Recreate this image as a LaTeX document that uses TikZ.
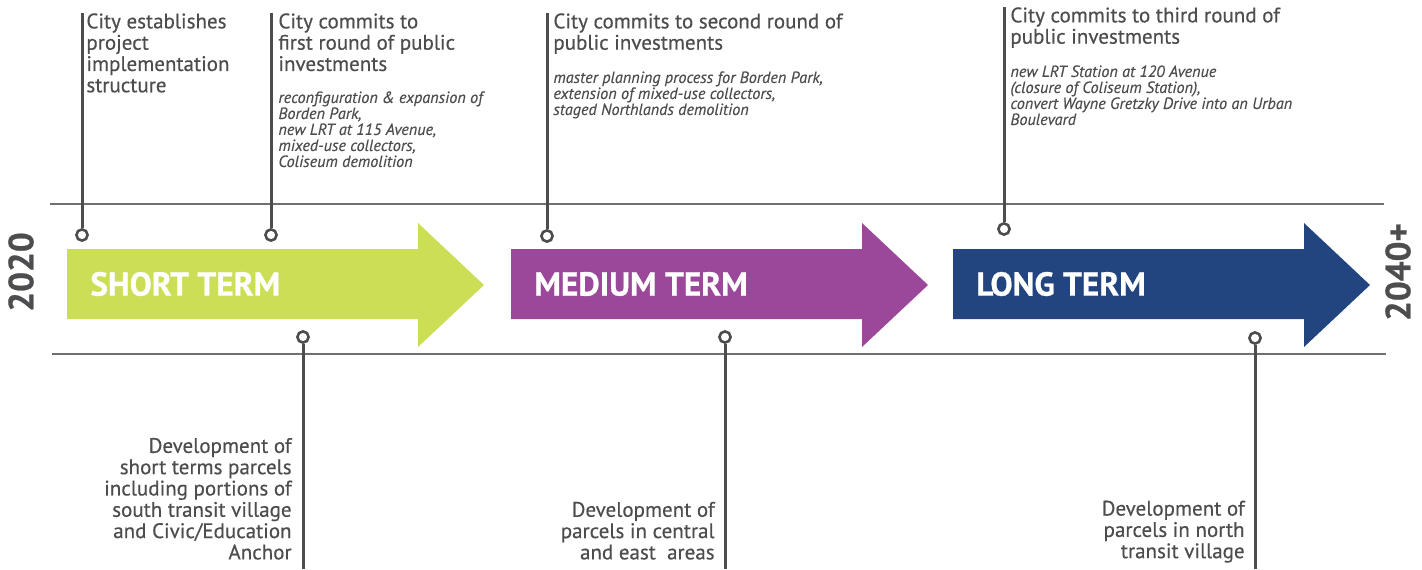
\documentclass[tikz,border=0pt]{standalone}
\usepackage{fontspec}
\setmainfont{PT Sans}
\newfontfamily\medfont{PT Sans}[UprightFeatures={FakeBold=0.4}, ItalicFeatures={FakeBold=0.25}]
\newfontfamily\heavyfont{PT Sans}[BoldFeatures={FakeBold=0.7}]
\usetikzlibrary{positioning}

\definecolor{txtgray}{HTML}{4D4D4F}
\definecolor{rulegray}{HTML}{707072}
\definecolor{shortgreen}{HTML}{CCDE56}
\definecolor{midpurple}{HTML}{9B479A}
\definecolor{longblue}{HTML}{22447F}

\tikzset{
  rule/.style={draw=rulegray, line width=0.6pt},
  stem/.style={draw=txtgray, line width=1.5pt},
  pin/.style={circle, draw=txtgray, line width=1.3pt, fill=white, minimum size=5.6pt, inner sep=0pt},
  head/.style={anchor=north west, inner sep=0pt, align=left, text=txtgray, font=\medfont\fontsize{10.5}{10.65}\selectfont},
  detail/.style={anchor=north west, inner sep=0pt, align=left, text=txtgray, font=\medfont\fontsize{8.1}{8}\selectfont\itshape},
  dev/.style={anchor=south east, inner sep=0pt, align=right, text=txtgray, font=\medfont\fontsize{10.5}{10.65}\selectfont},
  term/.style={anchor=west, inner sep=0pt, text=white, font=\heavyfont\fontsize{16.6}{17}\selectfont\bfseries},
  year/.style={inner sep=0pt, rotate=90, text=txtgray, font=\heavyfont\fontsize{17.5}{18}\selectfont\bfseries}
}

\begin{document}
\begin{tikzpicture}[x=0.5pt,y=-0.5pt]
    \useasboundingbox (0,0) rectangle (1422,569);
    % time rules
    \draw[rule] (50,204) -- (1384,204);
    \draw[rule] (52,354) -- (1386,354);
    % phase arrows
    \foreach \x/\col/\nm/\lab in {67/shortgreen/short/SHORT TERM, 511/midpurple/medium/MEDIUM TERM, 953/longblue/long/LONG TERM}{
        \fill[\col] (\x,249) -- ++(351,0) -- ++(0,-26) -- ++(66,62) -- ++(-66,62) -- ++(0,-28) -- ++(-351,0) -- cycle;
        \node[term] (\nm) at (\x+23,284) {\lab};
    }
    \node[year] (start) at (21,272) {2020};
    \node[year] (end) at (1398,272) {2040+};

    % milestones above
    \node[pin] (p1) at (82,235) {};
    \coordinate (p1top) at (82,13);
    \draw[stem] (p1top) -- (p1);
    \node[head] (t1) at (86,13) {City establishes\\project\\implementation\\structure};

    \node[pin] (p2) at (271,235) {};
    \coordinate (p2top) at (271,13);
    \draw[stem] (p2top) -- (p2);
    \node[head] (t2) at (278,13) {City commits to\\first round of public\\investments};
    \node[detail] (d2) at (278,91) {reconfiguration \& expansion of\\Borden Park,\\new LRT at 115 Avenue,\\mixed-use collectors,\\Coliseum demolition};

    \node[pin] (p3) at (547,236) {};
    \coordinate (p3top) at (547,13);
    \draw[stem] (p3top) -- (p3);
    \node[head] (t3) at (553,13) {City commits to second round of\\public investments};
    \node[detail] (d3) at (553,71) {master planning process for Borden Park,\\extension of mixed-use collectors,\\staged Northlands demolition};

    \node[pin] (p4) at (1004,229) {};
    \coordinate (p4top) at (1004,7);
    \draw[stem] (p4top) -- (p4);
    \node[head] (t4) at (1010,7) {City commits to third round of\\public investments};
    \node[detail] (d4) at (1010,65) {new LRT Station at 120 Avenue\\(closure of Coliseum Station),\\convert Wayne Gretzky Drive into an Urban\\Boulevard};

    % developments below
    \node[pin] (q1) at (303,337) {};
    \coordinate (q1bot) at (303,569);
    \draw[stem] (q1) -- (q1bot);
    \node[dev] (b1) at (292,560) {Development of\\short terms parcels\\including portions of\\south transit village\\and Civic/Education\\Anchor};

    \node[pin] (q2) at (725,337) {};
    \coordinate (q2bot) at (725,569);
    \draw[stem] (q2) -- (q2bot);
    \node[dev] (b2) at (715,560) {Development of\\parcels in central\\and east\ \ areas};

    \node[pin] (q3) at (1255,338) {};
    \coordinate (q3bot) at (1255,569);
    \draw[stem] (q3) -- (q3bot);
    \node[dev] (b3) at (1245,563) {Development of\\parcels in north\\transit village};
\end{tikzpicture}
\end{document}
